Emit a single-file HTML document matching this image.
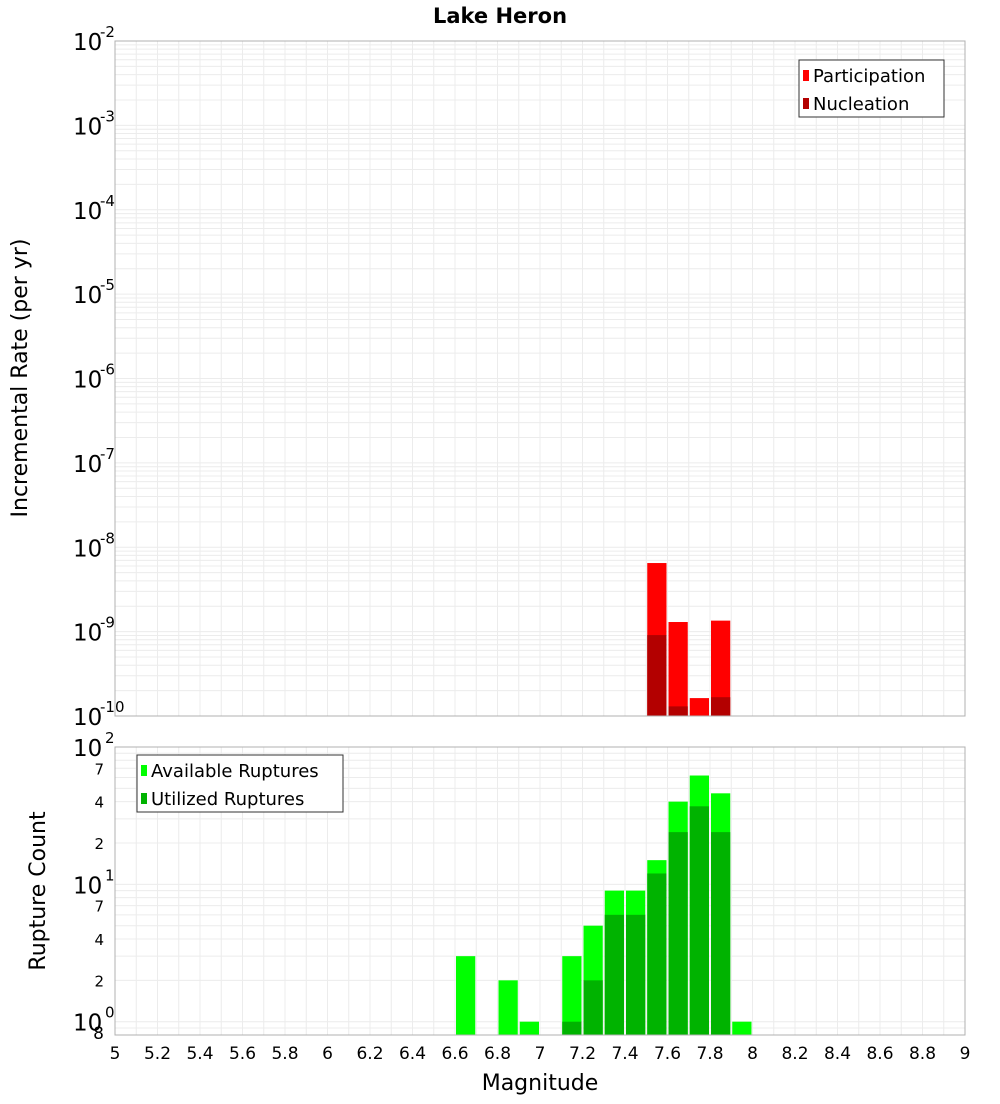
<!DOCTYPE html>
<html><head><meta charset="utf-8"><style>
body{margin:0;background:#fff;font-family:"DejaVu Sans","Liberation Sans",sans-serif}
svg text{font-family:"DejaVu Sans","Liberation Sans",sans-serif}
</style></head><body>
<svg id="c" width="1000" height="1100" xmlns="http://www.w3.org/2000/svg">
<text x="500" y="23" text-anchor="middle" font-size="21" font-weight="bold">Lake Heron</text>
<text transform="translate(27,378) rotate(-90)" text-anchor="middle" font-size="22">Incremental Rate (per yr)</text>
<text transform="translate(45,891) rotate(-90)" text-anchor="middle" font-size="22">Rupture Count</text>
<text x="540" y="1090" text-anchor="middle" font-size="22">Magnitude</text>
<g id="g"></g>
</svg>
<script>
const binCenters=[6.65,6.85,6.95,7.15,7.25,7.35,7.45,7.55,7.65,7.75,7.85,7.95];
const partMags=[7.55,7.65,7.75,7.85];
const partVals=[6.5e-9,1.3e-9,1.63e-10,1.35e-9];
const nuclMags=[7.55,7.65,7.85];
const nuclVals=[9.1e-10,1.3e-10,1.67e-10];
const availVals=[3,2,1,3,5,9,9,15,40,62,46,1];
const utilMags=[7.15,7.25,7.35,7.45,7.55,7.65,7.75,7.85];
const utilVals=[1,2,6,6,12,24,37,24];
const xTicks=[5,5.2,5.4,5.6,5.8,6,6.2,6.4,6.6,6.8,7,7.2,7.4,7.6,7.8,8,8.2,8.4,8.6,8.8,9];
const topExps=[-2,-3,-4,-5,-6,-7,-8,-9,-10];
const botMinorLabels=[2,4,7];

const NS="http://www.w3.org/2000/svg",G=document.getElementById('g');
function el(t,a,txt){const e=document.createElementNS(NS,t);for(const k in a)e.setAttribute(k,a[k]);if(txt!==undefined)e.textContent=txt;G.appendChild(e);return e;}
const X0=115,X1=965;
const x=m=>X0+(m-5)/4*(X1-X0);
const T0=41,T1=716;
const yT=v=>T0+(-2-Math.log10(v))/8*(T1-T0);
const B0=747,B1=1035,BL=Math.log10(0.8);
const yB=v=>B0+(2-Math.log10(v))/(2-BL)*(B1-B0);
const bw=x(5.1)-x(5)-2;

// grids
for(let m=5;m<=9.001;m+=0.1){
  let l=el('line',{x1:x(m),x2:x(m),y1:T0,y2:T1,stroke:'#ececec'});
  let l2=el('line',{x1:x(m),x2:x(m),y1:B0,y2:B1,stroke:'#ececec'});
}
for(let e=-10;e<-2;e++)for(let k=1;k<10;k++){const y=yT(k*Math.pow(10,e));
  let l=el('line',{x1:X0,x2:X1,y1:y,y2:y,stroke:'#ececec'});}
for(let e=-1;e<2;e++)for(let k=1;k<10;k++){const v=k*Math.pow(10,e);if(v<0.8)continue;const y=yB(v);
  let l=el('line',{x1:X0,x2:X1,y1:y,y2:y,stroke:'#ececec'});}

// top bars
partMags.forEach((m,i)=>{let r=el('rect',{x:x(m)-bw/2,y:yT(partVals[i]),width:bw,height:T1-yT(partVals[i]),fill:'#ff0000'});
  });
nuclMags.forEach((m,i)=>{let r=el('rect',{x:x(m)-bw/2,y:yT(nuclVals[i]),width:bw,height:T1-yT(nuclVals[i]),fill:'#b30000'});
  });
// bottom bars
binCenters.forEach((m,i)=>{let r=el('rect',{x:x(m)-bw/2,y:yB(availVals[i]),width:bw,height:B1-yB(availVals[i]),fill:'#00ff00'});
  });
utilMags.forEach((m,i)=>{let r=el('rect',{x:x(m)-bw/2,y:yB(utilVals[i]),width:bw,height:B1-yB(utilVals[i]),fill:'#00b300'});
  });

// frames
let f1=el('rect',{x:X0,y:T0,width:X1-X0,height:T1-T0,fill:'none',stroke:'#b0b0b0'});
let f2=el('rect',{x:X0,y:B0,width:X1-X0,height:B1-B0,fill:'none',stroke:'#b0b0b0'});

// x ticks
xTicks.forEach(m=>{let t=el('text',{x:x(m),y:1059,'text-anchor':'middle','font-size':17},String(m));});
// top y labels
topExps.forEach(e=>{const y=yT(Math.pow(10,e));
  let t=el('text',{x:73,y:y+9,'font-size':23},'10');
  let s=el('text',{x:100,y:y-4,'font-size':15},String(e));});
// bottom y labels
[2,1,0].forEach(e=>{const y=yB(Math.pow(10,e));
  let t=el('text',{x:73,y:y+9,'font-size':23},'10');
  let s=el('text',{x:105,y:y-4,'font-size':15},String(e));});
[1,10].forEach(d=>botMinorLabels.forEach(k=>{const y=yB(k*d);
  let t=el('text',{x:104,y:y+6,'font-size':15,'text-anchor':'end'},String(k));}));
let e8=el('text',{x:104,y:yB(0.8)+4,'font-size':17,'text-anchor':'end'},'8');

// legends
function legend(x0,y0,w,items,name){
  let b=el('rect',{x:x0,y:y0,width:w,height:57,fill:'#fff',stroke:'#333'});
  items.forEach((it,i)=>{let s=el('rect',{x:x0+4,y:y0+10+i*28,width:6,height:11,fill:it[1]});
    let t=el('text',{x:x0+14,y:y0+22+i*28,'font-size':18},it[0]);});
}
legend(799,60,145,[['Participation','#ff0000'],['Nucleation','#b30000']],'top-legend');
legend(137,755,206,[['Available Ruptures','#00ff00'],['Utilized Ruptures','#00b300']],'bottom-legend');
</script>
</body></html>
